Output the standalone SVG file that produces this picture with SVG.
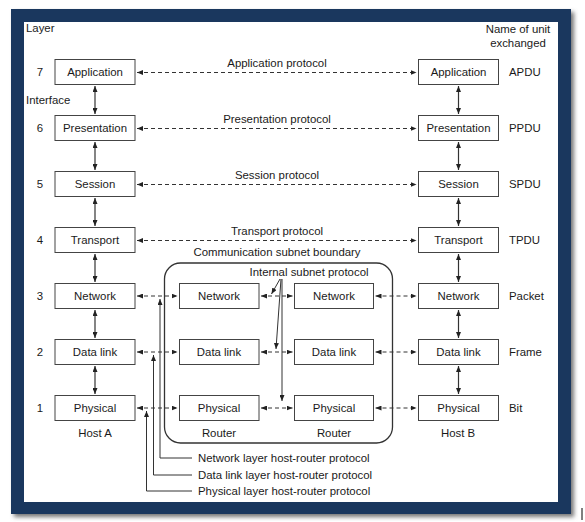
<svg xmlns="http://www.w3.org/2000/svg" width="585" height="522" viewBox="0 0 585 522">
<defs>
<filter id="sh" x="-5%" y="-5%" width="115%" height="115%">
<feGaussianBlur stdDeviation="2"/>
</filter>
<marker id="ah" viewBox="0 0 6 5" refX="6" refY="2.5" markerWidth="6" markerHeight="5" markerUnits="userSpaceOnUse" orient="auto-start-reverse">
<path d="M0,0 L6,2.5 L0,5 z" fill="#222"/>
</marker>
</defs>
<style>
text{font-family:"Liberation Sans",Arial,sans-serif;font-size:11.4px;fill:#1a1a1a}
.m{text-anchor:middle}
.e{text-anchor:end}
.box{fill:#fff;stroke:#444;stroke-width:1}
.dl{stroke:#333;stroke-width:1;stroke-dasharray:4 3;fill:none;marker-start:url(#ah);marker-end:url(#ah)}
.va{stroke:#333;stroke-width:1.2;fill:none;marker-start:url(#ah);marker-end:url(#ah)}
.sl{stroke:#333;stroke-width:1;fill:none}
.up{stroke:#333;stroke-width:1;fill:none;marker-start:url(#ah)}
.one{stroke:#333;stroke-width:1;fill:none;marker-end:url(#ah)}
</style>
<rect x="14" y="12" width="560" height="505" fill="#777" filter="url(#sh)"/>
<rect x="11" y="9" width="560" height="505" fill="#1a375e"/>
<rect x="24" y="22" width="534" height="480" fill="#fff"/>
<line x1="582" y1="508" x2="582" y2="520" stroke="#000" stroke-width="1"/>

<g id="labels">
<text x="26" y="32">Layer</text>
<text x="26" y="104">Interface</text>
<text x="518" y="33" class="m">Name of unit</text>
<text x="518" y="47" class="m">exchanged</text>
<text x="40" y="76" class="m">7</text>
<text x="40" y="132" class="m">6</text>
<text x="40" y="188" class="m">5</text>
<text x="40" y="244" class="m">4</text>
<text x="40" y="300" class="m">3</text>
<text x="40" y="356" class="m">2</text>
<text x="40" y="412" class="m">1</text>
<text x="509" y="76">APDU</text>
<text x="509" y="132">PPDU</text>
<text x="509" y="188">SPDU</text>
<text x="509" y="244">TPDU</text>
<text x="509" y="300">Packet</text>
<text x="509" y="356">Frame</text>
<text x="509" y="412">Bit</text>
<text x="95" y="437" class="m">Host A</text>
<text x="219" y="437" class="m">Router</text>
<text x="334" y="437" class="m">Router</text>
<text x="458" y="437" class="m">Host B</text>
</g>

<g id="subnet">
<rect x="164.5" y="263" width="228" height="180" rx="16" ry="16" fill="none" stroke="#333" stroke-width="1.3"/>
<text x="277" y="256" class="m">Communication subnet boundary</text>
</g>

<g id="hostA">
<g id="a7"><rect class="box" x="55" y="59.5" width="80" height="25"/><text x="95" y="76" class="m">Application</text></g>
<g id="a6"><rect class="box" x="55" y="115.5" width="80" height="25"/><text x="95" y="132" class="m">Presentation</text></g>
<g id="a5"><rect class="box" x="55" y="171.5" width="80" height="25"/><text x="95" y="188" class="m">Session</text></g>
<g id="a4"><rect class="box" x="55" y="227.5" width="80" height="25"/><text x="95" y="244" class="m">Transport</text></g>
<g id="a3"><rect class="box" x="55" y="283.5" width="80" height="25"/><text x="95" y="300" class="m">Network</text></g>
<g id="a2"><rect class="box" x="55" y="339.5" width="80" height="25"/><text x="95" y="356" class="m">Data link</text></g>
<g id="a1"><rect class="box" x="55" y="395.5" width="80" height="25"/><text x="95" y="412" class="m">Physical</text></g>
</g>

<g id="hostB">
<g id="b7"><rect class="box" x="418.5" y="59.5" width="80" height="25"/><text x="458.5" y="76" class="m">Application</text></g>
<g id="b6"><rect class="box" x="418.5" y="115.5" width="80" height="25"/><text x="458.5" y="132" class="m">Presentation</text></g>
<g id="b5"><rect class="box" x="418.5" y="171.5" width="80" height="25"/><text x="458.5" y="188" class="m">Session</text></g>
<g id="b4"><rect class="box" x="418.5" y="227.5" width="80" height="25"/><text x="458.5" y="244" class="m">Transport</text></g>
<g id="b3"><rect class="box" x="418.5" y="283.5" width="80" height="25"/><text x="458.5" y="300" class="m">Network</text></g>
<g id="b2"><rect class="box" x="418.5" y="339.5" width="80" height="25"/><text x="458.5" y="356" class="m">Data link</text></g>
<g id="b1"><rect class="box" x="418.5" y="395.5" width="80" height="25"/><text x="458.5" y="412" class="m">Physical</text></g>
</g>

<g id="router1">
<g id="r1n"><rect class="box" x="179.5" y="283.5" width="79.5" height="25"/><text x="219" y="300" class="m">Network</text></g>
<g id="r1d"><rect class="box" x="179.5" y="339.5" width="79.5" height="25"/><text x="219" y="356" class="m">Data link</text></g>
<g id="r1p"><rect class="box" x="179.5" y="395.5" width="79.5" height="25"/><text x="219" y="412" class="m">Physical</text></g>
</g>

<g id="router2">
<g id="r2n"><rect class="box" x="294.5" y="283.5" width="79" height="25"/><text x="334" y="300" class="m">Network</text></g>
<g id="r2d"><rect class="box" x="294.5" y="339.5" width="79" height="25"/><text x="334" y="356" class="m">Data link</text></g>
<g id="r2p"><rect class="box" x="294.5" y="395.5" width="79" height="25"/><text x="334" y="412" class="m">Physical</text></g>
</g>

<g id="connectors">
<!-- peer protocols -->
<line class="dl" x1="137" y1="72.5" x2="416.5" y2="72.5"/>
<text x="277" y="66.5" class="m">Application protocol</text>
<line class="dl" x1="137" y1="128.5" x2="416.5" y2="128.5"/>
<text x="277" y="122.5" class="m">Presentation protocol</text>
<line class="dl" x1="137" y1="184.5" x2="416.5" y2="184.5"/>
<text x="277" y="178.5" class="m">Session protocol</text>
<line class="dl" x1="137" y1="240.5" x2="416.5" y2="240.5"/>
<text x="277" y="234.5" class="m">Transport protocol</text>
<!-- subnet-level dashed -->
<line class="dl" x1="137" y1="296" x2="177.5" y2="296"/>
<line class="dl" x1="261" y1="296" x2="292.5" y2="296"/>
<line class="dl" x1="375.5" y1="296" x2="416.5" y2="296"/>
<line class="dl" x1="137" y1="352" x2="177.5" y2="352"/>
<line class="dl" x1="261" y1="352" x2="292.5" y2="352"/>
<line class="dl" x1="375.5" y1="352" x2="416.5" y2="352"/>
<line class="dl" x1="137" y1="408" x2="177.5" y2="408"/>
<line class="dl" x1="261" y1="408" x2="292.5" y2="408"/>
<line class="dl" x1="375.5" y1="408" x2="416.5" y2="408"/>
<!-- interfaces left -->
<line class="va" x1="95" y1="86" x2="95" y2="114"/>
<line class="va" x1="95" y1="142" x2="95" y2="170"/>
<line class="va" x1="95" y1="198" x2="95" y2="226"/>
<line class="va" x1="95" y1="254" x2="95" y2="282"/>
<line class="va" x1="95" y1="310" x2="95" y2="338"/>
<line class="va" x1="95" y1="366" x2="95" y2="394"/>
<!-- interfaces right -->
<line class="va" x1="458.5" y1="86" x2="458.5" y2="114"/>
<line class="va" x1="458.5" y1="142" x2="458.5" y2="170"/>
<line class="va" x1="458.5" y1="198" x2="458.5" y2="226"/>
<line class="va" x1="458.5" y1="254" x2="458.5" y2="282"/>
<line class="va" x1="458.5" y1="310" x2="458.5" y2="338"/>
<line class="va" x1="458.5" y1="366" x2="458.5" y2="394"/>
<!-- internal subnet protocol -->
<text x="309" y="276" class="m">Internal subnet protocol</text>
<line class="one" x1="280" y1="279" x2="271.5" y2="294"/>
<line class="one" x1="281" y1="279" x2="276" y2="349"/>
<line class="one" x1="282" y1="279" x2="282" y2="401"/>
<!-- host-router protocols -->
<polyline class="up" points="160,299 160,458 192,458"/>
<text x="198" y="462">Network layer host-router protocol</text>
<polyline class="up" points="153.5,355 153.5,475 192,475"/>
<text x="198" y="479">Data link layer host-router protocol</text>
<polyline class="up" points="146.5,411 146.5,491 192,491"/>
<text x="198" y="495">Physical layer host-router protocol</text>
</g>
</svg>
